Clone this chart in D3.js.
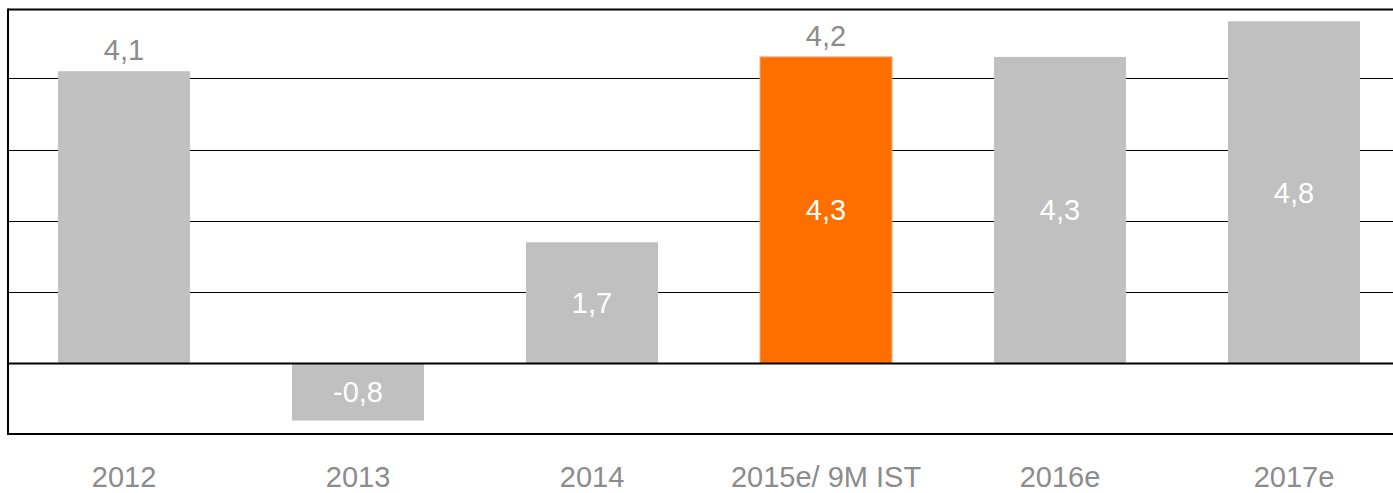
<!DOCTYPE html>
<html>
<head>
<meta charset="utf-8">
<script src="https://cdn.jsdelivr.net/npm/d3@7"></script>
<style>
  body { margin: 0; background: #fff; }
  svg { display: block; font-family: "Liberation Sans", Arial, sans-serif; }
</style>
</head>
<body>
<svg id="chart" width="1393" height="493"></svg>
<script>
categories = ['2012', '2013', '2014', '2015e/ 9M IST', '2016e', '2017e'];
values = [4.1, -0.8, 1.7, 4.3, 4.3, 4.8];
// labels shown above the bar (null = none)
top_labels = ['4,1', null, null, '4,2', null, null];
// inside labels (null = none)
inner_labels = [null, '-0,8', '1,7', '4,3', '4,3', '4,8'];
highlight = '2015e/ 9M IST';
y_ticks = [-1, 0, 1, 2, 3, 4, 5];

svg = d3.select('#chart');

left = 8;
top_y = 9.5;
bottom_y = 434;
step = 234;

x = d3.scaleBand()
    .domain(categories)
    .range([left - 1, left - 1 + step * categories.length])
    .paddingInner(0.436)
    .paddingOuter(0.218);

// zero at 363.5, about 71.3px per unit
y = d3.scaleLinear()
    .domain([0, 1])
    .range([363.5, 292.2]);

rows = categories.map(function(c, i){
    return {cat: c, value: values[i], top: top_labels[i], inner: inner_labels[i]};
});

// gridlines
grid = svg.append('g');
y_ticks.filter(t => t > -1 && t < 5 && t !== 0).forEach(function(t){
    grid.append('line')
        .attr('x1', left).attr('x2', 1393)
        .attr('y1', Math.round(y(t)) + 0.5).attr('y2', Math.round(y(t)) + 0.5)
        .attr('stroke', '#000').attr('stroke-width', 1);
});

// bars
svg.append('g').selectAll('rect')
    .data(rows)
    .join('rect')
    .attr('x', d => x(d.cat))
    .attr('width', x.bandwidth())
    .attr('y', d => y(Math.max(0, d.value)))
    .attr('height', d => Math.abs(y(d.value) - y(0)))
    .attr('fill', d => d.cat === highlight ? '#ff6f00' : '#c0c0c0')
    .attr('stroke', d => d.cat === highlight ? '#f4a27a' : 'none')
    .attr('stroke-width', 1);

// zero line + frame
svg.append('line')
    .attr('x1', left).attr('x2', 1393)
    .attr('y1', y(0)).attr('y2', y(0))
    .attr('stroke', '#000').attr('stroke-width', 2);
svg.append('line')
    .attr('x1', left).attr('x2', 1393)
    .attr('y1', top_y).attr('y2', top_y)
    .attr('stroke', '#000').attr('stroke-width', 2);
svg.append('line')
    .attr('x1', left).attr('x2', 1393)
    .attr('y1', bottom_y).attr('y2', bottom_y)
    .attr('stroke', '#000').attr('stroke-width', 2);
svg.append('line')
    .attr('x1', left).attr('x2', left)
    .attr('y1', top_y - 1).attr('y2', bottom_y + 1)
    .attr('stroke', '#000').attr('stroke-width', 2);

// labels above bars
svg.append('g').selectAll('text')
    .data(rows.filter(d => d.top !== null))
    .join('text')
    .attr('x', d => x(d.cat) + x.bandwidth() / 2)
    .attr('y', d => y(d.value) - 11)
    .attr('text-anchor', 'middle')
    .attr('font-size', 29)
    .attr('fill', '#8c8c8c')
    .text(d => d.top);

// labels inside bars
svg.append('g').selectAll('text')
    .data(rows.filter(d => d.inner !== null))
    .join('text')
    .attr('x', d => x(d.cat) + x.bandwidth() / 2)
    .attr('y', d => (y(d.value) + y(0)) / 2)
    .attr('dy', '0.35em')
    .attr('text-anchor', 'middle')
    .attr('font-size', 29)
    .attr('fill', '#fff')
    .text(d => d.inner);

// category axis
x_axis = svg.append('g')
    .attr('transform', `translate(0,${bottom_y})`)
    .call(d3.axisBottom(x).tickSize(0).tickPadding(32));
x_axis.select('.domain').remove();
x_axis.selectAll('text')
    .attr('font-size', 29)
    .attr('font-family', '"Liberation Sans", Arial, sans-serif')
    .attr('fill', '#8c8c8c');
</script>
</body>
</html>
